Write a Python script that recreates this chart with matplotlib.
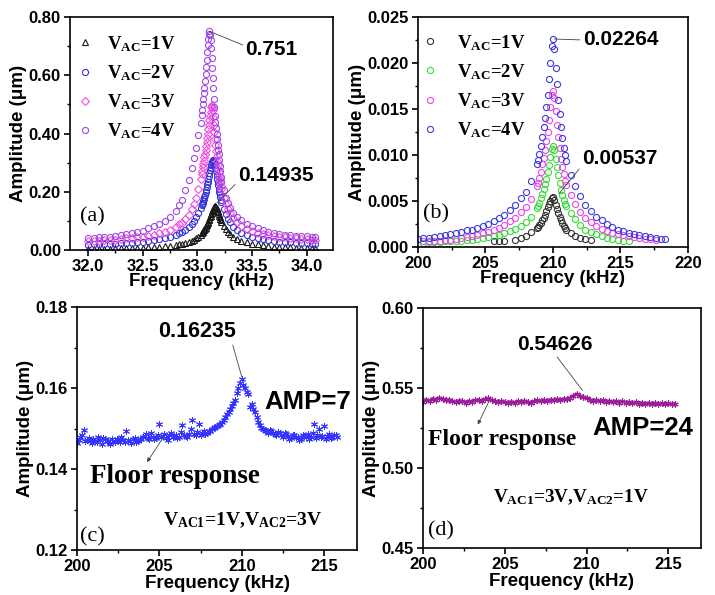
import matplotlib
matplotlib.use("Agg")
import matplotlib.pyplot as plt
from matplotlib.ticker import MultipleLocator
import numpy as np

nan = np.nan

# (a) resonance around 33 kHz; dense sweep (0.005 kHz) near the peak
a_freq = np.round(np.concatenate([
    [32.00, 32.05, 32.10, 32.15, 32.20, 32.25, 32.30, 32.35, 32.40, 32.45,
     32.50, 32.55, 32.60, 32.65, 32.70, 32.75, 32.80],
    [32.83, 32.86, 32.89, 32.92, 32.95, 32.97, 32.99, 33.01, 33.03],
    np.arange(33.040, 33.2201, 0.005),
    [33.24, 33.26, 33.28, 33.30, 33.33, 33.36, 33.40],
    [33.45, 33.50, 33.55, 33.60, 33.65, 33.70, 33.75, 33.80, 33.85, 33.90,
     33.95, 34.00, 34.05, 34.08]]), 3)
a_1v = [0.004, 0.004, 0.005, 0.005, 0.005, 0.006, 0.006, 0.007, 0.007, 0.008,
        0.008, 0.009, 0.010, 0.011, 0.013, 0.015, 0.017,
        0.019, 0.021, 0.023, 0.027, 0.031, 0.035, 0.040, 0.046, 0.053,
        0.057, 0.060, 0.062, 0.065, 0.068, 0.071, 0.073, 0.077, 0.081, 0.085,
        0.088, 0.092, 0.097, 0.102, 0.107, 0.112, 0.117, 0.123, 0.128, 0.133,
        0.138, 0.142, 0.146, 0.148, 0.150, 0.150, 0.149, 0.145, 0.140, 0.135,
        0.129, 0.124, 0.118, 0.113, 0.107, 0.102, 0.097,
        0.083, 0.071, 0.062, 0.054, 0.045, 0.038, 0.032,
        0.027, 0.022, 0.019, 0.016, 0.014, 0.012, 0.011, 0.010, 0.009, 0.008,
        0.008, 0.007, 0.007, 0.006]
a_2v = [0.018, 0.019, 0.019, 0.020, 0.021, 0.022, 0.023, 0.024, 0.025, 0.027,
        0.029, 0.031, 0.034, 0.037, 0.041, 0.046, 0.052,
        0.059, 0.063, 0.070, 0.080, 0.090, 0.100, 0.112, 0.126, 0.143,
        0.153, 0.158, 0.163, 0.169, 0.176, 0.183, 0.190, 0.198, 0.207, 0.216,
        0.225, 0.235, 0.245, 0.255, 0.265, 0.274, 0.283, 0.291, 0.298, 0.303,
        0.307, 0.309, 0.309, 0.303, 0.295, 0.283, 0.270, 0.258, 0.245, 0.233,
        0.222, 0.211, 0.200, 0.191, 0.182, 0.173, 0.165,
        0.142, 0.122, 0.106, 0.095, 0.080, 0.069, 0.059,
        0.051, 0.045, 0.040, 0.037, 0.034, 0.031, 0.029, 0.027, 0.026, 0.025,
        0.024, 0.023, 0.022, 0.021]
a_3v = [0.030, 0.031, 0.032, 0.033, 0.034, 0.036, 0.038, 0.040, 0.041, 0.043,
        0.046, 0.049, 0.053, 0.057, 0.062, 0.069, 0.078,
        0.088, 0.094, 0.105, 0.120, 0.140, 0.157, 0.180, 0.210, 0.245,
        0.262, 0.272, 0.285, 0.296, 0.307, 0.318, 0.330, 0.343, 0.357, 0.371,
        0.385, 0.400, 0.415, 0.430, 0.445, 0.460, 0.475, 0.490, 0.498, 0.492,
        0.480, 0.458, 0.430, 0.405, 0.380, 0.360, 0.340, 0.322, 0.305, 0.292,
        0.279, 0.267, 0.255, 0.244, 0.232, 0.221, 0.210,
        0.180, 0.158, 0.140, 0.126, 0.110, 0.096, 0.083,
        0.073, 0.066, 0.060, 0.056, 0.052, 0.049, 0.046, 0.044, 0.042, 0.040,
        0.039, 0.038, 0.036, 0.035]
a_4v = [0.040, 0.041, 0.043, 0.045, 0.046, 0.048, 0.051, 0.054, 0.058, 0.062,
        0.067, 0.074, 0.081, 0.090, 0.101, 0.115, 0.135,
        0.155, 0.172, 0.205, 0.240, 0.280, 0.315, 0.350, 0.395, 0.435,
        0.465, 0.482, 0.500, 0.518, 0.538, 0.558, 0.580, 0.604, 0.628, 0.654,
        0.680, 0.703, 0.725, 0.742, 0.751, 0.738, 0.720, 0.692, 0.660, 0.625,
        0.590, 0.555, 0.520, 0.490, 0.460, 0.440, 0.420, 0.400, 0.380, 0.362,
        0.345, 0.328, 0.310, 0.290, 0.270, 0.252, 0.235,
        0.205, 0.180, 0.160, 0.145, 0.128, 0.115, 0.102,
        0.090, 0.081, 0.074, 0.068, 0.063, 0.059, 0.056, 0.053, 0.051, 0.049,
        0.048, 0.047, 0.046, 0.045]

# (b) resonance around 210 kHz
b_freq = [200.0, 200.4, 200.8, 201.2, 201.6, 202.0, 202.4, 202.8, 203.2, 203.6,
          204.0, 204.4, 204.8, 205.2, 205.6, 206.0, 206.4, 206.8, 207.2, 207.6,
          208.0, 208.4, 208.8,
          208.9, 209.0, 209.1, 209.2, 209.3, 209.4, 209.5, 209.6, 209.7, 209.8,
          209.9, 210.0, 210.1, 210.2, 210.3, 210.4, 210.5, 210.6, 210.7, 210.8,
          210.9, 211.0,
          211.3, 211.6, 212.0, 212.4, 212.8, 213.2, 213.6, 214.0, 214.4, 214.8,
          215.2, 215.6, 216.0, 216.4, 216.8, 217.2, 217.6, 218.0, 218.3]
b_1v = [nan, nan, nan, nan, nan, nan, nan, nan, nan, nan,
        nan, nan, nan, nan, 0.0006, 0.0006, 0.0006, nan, 0.0008, 0.0010,
        0.0012, 0.0016, 0.0021,
        0.0022, 0.0024, 0.0026, 0.0029, 0.0032, 0.0035, 0.0039, 0.0043, 0.0047, 0.0050,
        0.0053, 0.0054, 0.0051, 0.0046, 0.0041, 0.0037, 0.0033, 0.0029, 0.0026, 0.0023,
        0.0021, 0.0019,
        0.0015, 0.0012, 0.0010, 0.0009, 0.0008, nan, nan, nan, nan, nan,
        nan, nan, nan, nan, nan, nan, nan, nan, nan]
b_2v = [nan, 0.0004, 0.0005, 0.0005, 0.0005, 0.0006, 0.0006, 0.0007, 0.0007, 0.0008,
        0.0008, 0.0009, 0.0010, 0.0011, 0.0012, 0.0013, 0.0015, 0.0017, 0.0020, 0.0023,
        0.0027, 0.0033, 0.0042,
        0.0045, 0.0048, 0.0053, 0.0058, 0.0063, 0.0068, 0.0074, 0.0081, 0.0089, 0.0098,
        0.0106, 0.0110, 0.0105, 0.0096, 0.0087, 0.0078, 0.0070, 0.0062, 0.0056, 0.0051,
        0.0047, 0.0044,
        0.0037, 0.0030, 0.0024, 0.0019, 0.0016, 0.0014, 0.0012, 0.0010, 0.0009, 0.0008,
        0.0007, 0.0006, nan, nan, nan, nan, nan, nan, nan]
b_3v = [nan, 0.0006, 0.0006, 0.0007, 0.0007, 0.0008, 0.0008, 0.0009, 0.0010, 0.0011,
        0.0012, 0.0013, 0.0015, 0.0016, 0.0018, 0.0021, 0.0024, 0.0028, 0.0032, 0.0038,
        0.0043, 0.0052, 0.0066,
        0.0070, 0.0075, 0.0082, 0.0090, 0.0097, 0.0105, 0.0115, 0.0125, 0.0138, 0.0152,
        0.0165, 0.0170, 0.0162, 0.0148, 0.0133, 0.0120, 0.0108, 0.0096, 0.0087, 0.0079,
        0.0072, 0.0067,
        0.0056, 0.0047, 0.0038, 0.0032, 0.0027, 0.0023, 0.0020, 0.0017, 0.0015, 0.0014,
        0.0013, 0.0012, 0.0011, 0.0010, 0.0009, 0.0009, 0.0008, nan, nan]
b_4v = [0.0009, 0.0010, 0.0010, 0.0011, 0.0012, 0.0013, 0.0014, 0.0015, 0.0016, 0.0018,
        0.0019, 0.0021, 0.0023, 0.0025, 0.0028, 0.0031, 0.0035, 0.0040, 0.0046, 0.0053,
        0.0060, 0.0072, 0.0090,
        0.0095, 0.0101, 0.0110, 0.0120, 0.0130, 0.0140, 0.0152, 0.0165, 0.0183, 0.0200,
        0.0218, 0.02264, 0.0215, 0.0195, 0.0177, 0.0160, 0.0145, 0.0130, 0.0118, 0.0108,
        0.0100, 0.0093,
        0.0078, 0.0066, 0.0055, 0.0046, 0.0039, 0.0033, 0.0029, 0.0025, 0.0022, 0.0019,
        0.0017, 0.0015, 0.0014, 0.0013, 0.0012, 0.0011, 0.0010, 0.0009, 0.0009]

# (c) AMP=7, readings every 0.1 kHz (two interleaved passes)
c_freq1 = np.round(np.arange(200.0, 215.81, 0.2), 1)
c_amp1 = [0.1465, 0.1478, 0.1496, 0.1472, 0.1469, 0.1474, 0.1466, 0.1471, 0.1476, 0.1468,
          0.1463, 0.1470, 0.1475, 0.1467, 0.1472, 0.1493, 0.1469, 0.1474, 0.1466, 0.1473,
          0.1479, 0.1486, 0.1475, 0.1480, 0.1477, 0.1510, 0.1481, 0.1476, 0.1483, 0.1479,
          0.1485, 0.1478, 0.1508, 0.1482, 0.1487, 0.1522, 0.1484, 0.1512, 0.1489, 0.1486,
          0.1494, 0.1498, 0.1503, 0.1509, 0.1516, 0.1528, 0.1542, 0.1556, 0.1570, 0.1600,
          0.16235, 0.1600, 0.1585, 0.1560, 0.1540, 0.1515, 0.1502, 0.1497, 0.1490, 0.1494,
          0.1486, 0.1491, 0.1483, 0.1488, 0.1481, 0.1476, 0.1485, 0.1479, 0.1473, 0.1482,
          0.1487, 0.1478, 0.1510, 0.1484, 0.1479, 0.1505, 0.1481, 0.1476, 0.1484, 0.1479]
c_freq2 = np.round(np.arange(200.1, 215.71, 0.2), 1)
c_amp2 = [0.1471, 0.1485, 0.1468, 0.1477, 0.1464, 0.1470, 0.1479, 0.1462, 0.1473, 0.1468,
          0.1475, 0.1466, 0.1471, 0.1480, 0.1467, 0.1472, 0.1464, 0.1477, 0.1470, 0.1475,
          0.1482, 0.1477, 0.1489, 0.1474, 0.1483, 0.1479, 0.1486, 0.1472, 0.1488, 0.1481,
          0.1477, 0.1491, 0.1484, 0.1479, 0.1500, 0.1486, 0.1492, 0.1483, 0.1495, 0.1490,
          0.1493, 0.1501, 0.1506, 0.1512, 0.1520, 0.1535, 0.1549, 0.1563, 0.1588, 0.1612,
          0.1608, 0.1590, 0.1552, 0.1548, 0.1528, 0.1508, 0.1499, 0.1493, 0.1496, 0.1488,
          0.1484, 0.1490, 0.1479, 0.1486, 0.1474, 0.1483, 0.1478, 0.1471, 0.1484, 0.1480,
          0.1475, 0.1488, 0.1477, 0.1498, 0.1482, 0.1473, 0.1486, 0.1478, 0.1483]

# (d) AMP=24, sweep 200-215.4 kHz in 0.2 kHz steps
d_freq = np.round(np.arange(200.0, 215.41, 0.2), 1)
d_amp = [0.5415, 0.5428, 0.5420, 0.5434, 0.5426, 0.5438, 0.5430, 0.5422, 0.5427, 0.5419,
         0.5412, 0.5421, 0.5416, 0.5409, 0.5418, 0.5413, 0.5422, 0.5428, 0.5419, 0.5431,
         0.5436, 0.5425, 0.5417, 0.5410, 0.5419, 0.5412, 0.5406, 0.5415, 0.5409, 0.5418,
         0.5411, 0.5420, 0.5414, 0.5407, 0.5416, 0.5423, 0.5417, 0.5426, 0.5419, 0.5428,
         0.5422, 0.5431, 0.5425, 0.5433, 0.5429, 0.5440, 0.5452, 0.54626, 0.5450, 0.5444,
         0.5436, 0.5428, 0.5420, 0.5426, 0.5417, 0.5423, 0.5414, 0.5420, 0.5411, 0.5418,
         0.5409, 0.5416, 0.5407, 0.5413, 0.5405, 0.5412, 0.5403, 0.5409, 0.5401, 0.5408,
         0.5400, 0.5407, 0.5399, 0.5405, 0.5398, 0.5404, 0.5397, 0.5403]

labels = ["V$_{\\mathrm{AC}}$=1V", "V$_{\\mathrm{AC}}$=2V",
          "V$_{\\mathrm{AC}}$=3V", "V$_{\\mathrm{AC}}$=4V"]

plt.rcParams["font.family"] = "Liberation Sans"
plt.rcParams["font.weight"] = "bold"
plt.rcParams["axes.labelweight"] = "bold"
plt.rcParams["mathtext.fontset"] = "custom"
plt.rcParams["mathtext.rm"] = "Liberation Serif:bold"
plt.rcParams["mathtext.it"] = "Liberation Serif:bold"
plt.rcParams["mathtext.bf"] = "Liberation Serif:bold"

SERIF = "Liberation Serif"
LEG = {"family": SERIF, "weight": "bold", "size": 13.5}
LINE = dict(arrowstyle="-", lw=0.6, color="#444444", shrinkA=0, shrinkB=0)


def style_axes(ax, xmaj, xmin, ymaj, ymin, yfmt, xfmt="%d", xpad=-1):
    for s in ax.spines.values():
        s.set_linewidth(1.2)
    ax.xaxis.set_major_locator(MultipleLocator(xmaj))
    ax.xaxis.set_minor_locator(MultipleLocator(xmin))
    ax.yaxis.set_major_locator(MultipleLocator(ymaj))
    ax.yaxis.set_minor_locator(MultipleLocator(ymin))
    ax.xaxis.set_major_formatter(plt.FormatStrFormatter(xfmt))
    ax.yaxis.set_major_formatter(plt.FormatStrFormatter(yfmt))
    ax.tick_params(which="major", direction="out", length=4.5, width=1.2,
                   labelsize=12, pad=2)
    ax.tick_params(which="minor", direction="out", length=2.5, width=1.0)
    for t in ax.get_xticklabels() + ax.get_yticklabels():
        t.set_fontweight("bold")
    ax.set_xlabel("Frequency (kHz)", fontsize=13.5, fontweight="bold", labelpad=xpad)
    ax.set_ylabel("Amplitude (μm)", fontsize=13.5, fontweight="bold", labelpad=1)


fig = plt.figure(figsize=(7.15, 5.95), dpi=100)

# Parte a)
ax = fig.add_axes([0.0979, 0.5798, 0.3678, 0.3916])
a_styles = [("^", "#1a1a1a"), ("o", "#3535d6"), ("D", "#f050dc"), ("o", "#a048e6")]
for vals, (mk, col), lab in zip([a_1v, a_2v, a_3v, a_4v], a_styles, labels):
    ax.plot(a_freq, vals, linestyle="none", marker=mk, ms=4.4 if mk != "D" else 3.6,
            mfc="none", mec=col, mew=0.8, label=lab)
ax.set_xlim(31.835, 34.24)
ax.set_ylim(0, 0.80)
style_axes(ax, 0.5, 0.25, 0.2, 0.1, "%.2f", "%.1f")
ax.legend(loc="upper left", bbox_to_anchor=(0.007, 0.951), frameon=False, prop=LEG,
          handlelength=0.8, handletextpad=0.77, labelspacing=0.5, borderaxespad=0,
          borderpad=0.3, numpoints=1)
ax.annotate("0.751", xy=(33.11, 0.751), xytext=(33.44, 0.687), fontsize=15,
            ha="left", va="center", arrowprops=dict(LINE, relpos=(0, 0.7)))
ax.annotate("0.14935", xy=(33.18, 0.162), xytext=(33.37, 0.2575), fontsize=15,
            ha="left", va="center", arrowprops=dict(LINE, relpos=(0, 0.15)))
ax.text(31.93, 0.113, "(a)", family=SERIF, fontweight="normal", fontsize=16,
        ha="left", va="center")

# Parte b)
ax = fig.add_axes([0.5846, 0.5849, 0.3776, 0.3866])
b_cols = ["#333333", "#35dd35", "#ee44ee", "#3b3bdd"]
for vals, col, lab in zip([b_1v, b_2v, b_3v, b_4v], b_cols, labels):
    ax.plot(b_freq, vals, linestyle="none", marker="o", ms=4.4, mfc="none", mec=col,
            mew=0.8, label=lab)
ax.set_xlim(200, 220)
ax.set_ylim(0, 0.025)
style_axes(ax, 5, 2.5, 0.005, 0.0025, "%.3f")
ax.legend(loc="upper left", bbox_to_anchor=(-0.004, 0.955), frameon=False, prop=LEG,
          handlelength=0.8, handletextpad=1.04, labelspacing=0.5, borderaxespad=0,
          borderpad=0.3, numpoints=1)
ax.annotate("0.02264", xy=(210.1, 0.0226), xytext=(212.2, 0.0225), fontsize=15,
            ha="left", va="center", arrowprops=dict(LINE, relpos=(0, 0.5)))
ax.annotate("0.00537", xy=(210.45, 0.0058), xytext=(212.15, 0.00967), fontsize=15,
            ha="left", va="center", arrowprops=dict(LINE, relpos=(0, 0.1)))
ax.text(200.37, 0.00359, "(b)", family=SERIF, fontweight="normal", fontsize=16,
        ha="left", va="center")

# Parte c)
ax = fig.add_axes([0.1077, 0.0756, 0.3916, 0.4084])
for fr, am in [(c_freq1, c_amp1), (c_freq2, c_amp2)]:
    ax.plot(fr, am, linestyle="none", marker=(6, 2, 0), ms=5, mec="#3535ff", mew=0.7)
ax.set_xlim(200, 217)
ax.set_ylim(0.12, 0.18)
style_axes(ax, 5, 2.5, 0.02, 0.01, "%.2f", xpad=0.5)
ax.annotate("0.16235", xy=(210.0, 0.1628), xytext=(207.28, 0.1739), fontsize=15.5,
            ha="center", va="center", arrowprops=dict(LINE, relpos=(0.95, 0)))
ax.text(211.37, 0.1565, "AMP=7", fontsize=18.5, ha="left", va="center")
ax.annotate("", xy=(204.25, 0.1417), xytext=(205.22, 0.1477),
            arrowprops=dict(arrowstyle="-|>", lw=0.6, color="#444444", mutation_scale=6,
                            shrinkA=0, shrinkB=0))
ax.text(200.81, 0.1365, "Floor response", family=SERIF, fontsize=19.5, ha="left",
        va="baseline")
ax.text(205.22, 0.126, "V$_{\\mathrm{AC1}}$=1V,V$_{\\mathrm{AC2}}$=3V", family=SERIF,
        fontsize=14, ha="left", va="baseline")
ax.text(200.2, 0.1232, "(c)", family=SERIF, fontweight="normal", fontsize=16,
        ha="left", va="center")

# Parte d)
ax = fig.add_axes([0.5916, 0.0790, 0.3888, 0.4034])
ax.plot(d_freq, d_amp, color="#9b1f9b", lw=2.0, marker=(6, 2, 0), ms=4.5, mew=0.8)
ax.set_xlim(200, 217)
ax.set_ylim(0.45, 0.60)
style_axes(ax, 5, 2.5, 0.05, 0.025, "%.2f", xpad=0.5)
ax.annotate("0.54626", xy=(209.75, 0.5485), xytext=(208.07, 0.5771), fontsize=15,
            ha="center", va="center", arrowprops=dict(LINE, relpos=(0.5, 0)))
ax.text(210.38, 0.5252, "AMP=24", fontsize=18.5, ha="left", va="center")
ax.annotate("", xy=(203.35, 0.5271), xytext=(204.08, 0.5427),
            arrowprops=dict(arrowstyle="-|>", lw=0.6, color="#444444", mutation_scale=6,
                            shrinkA=0, shrinkB=0))
ax.text(200.29, 0.5146, "Floor response", family=SERIF, fontsize=17, ha="left",
        va="baseline")
ax.text(204.27, 0.4783, "V$_{\\mathrm{AC1}}$=3V,V$_{\\mathrm{AC2}}$=1V", family=SERIF,
        fontsize=13.8, ha="left", va="baseline")
ax.text(200.29, 0.4608, "(d)", family=SERIF, fontweight="normal", fontsize=16,
        ha="left", va="center")

fig.savefig("out.png", dpi=100)
